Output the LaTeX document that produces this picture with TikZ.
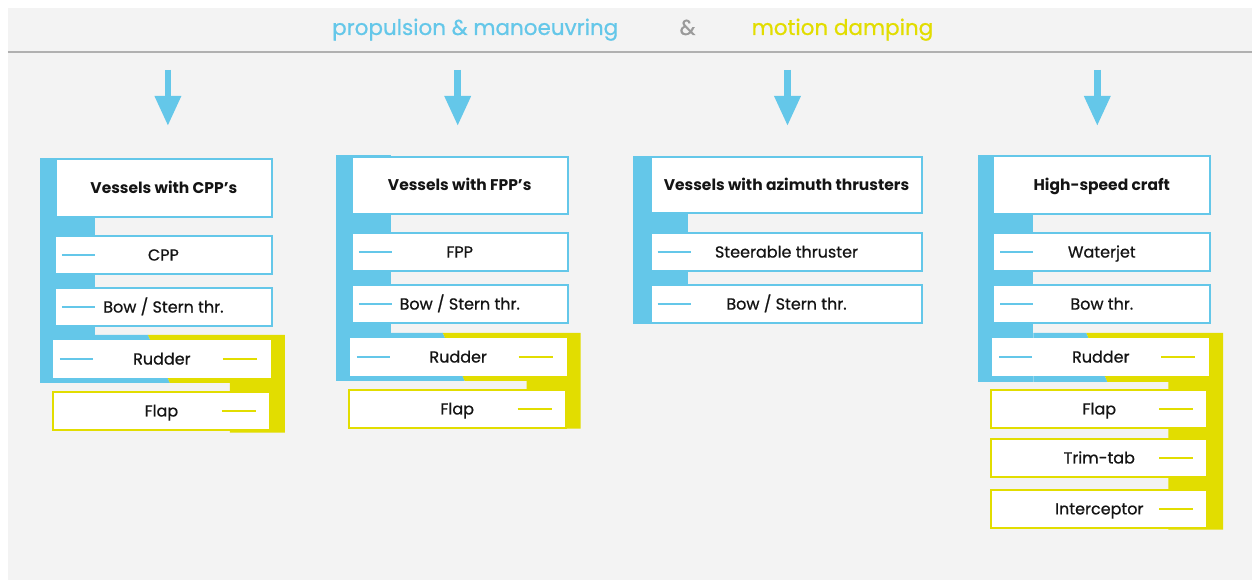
\documentclass[tikz,border=0pt]{standalone}
\usepackage{fontspec}
\setmainfont{Poppins}
\newfontfamily\mediumface{Poppins}[FakeBold=0.7]
\usetikzlibrary{arrows.meta}
\definecolor{sky}{HTML}{64C7E9}
\definecolor{lemon}{HTML}{E2DD00}
\definecolor{panelgray}{HTML}{F3F3F3}
\definecolor{rulegray}{HTML}{B0B0B0}
\definecolor{ampgray}{HTML}{9A9A9A}
\definecolor{ink}{HTML}{141414}
\tikzset{
  boxbase/.style={rectangle, inner sep=0pt, outer sep=0pt, fill=white, text=ink,
    line width=2pt, minimum width=217pt, minimum height=38pt,
    text height=11.5pt, text depth=0pt,
    font=\mediumface\fontsize{16}{18}\selectfont},
  hdrbox/.style={boxbase, draw=sky, minimum height=58pt, text height=11pt,
    font=\fontsize{15.5}{18}\selectfont\bfseries},
  bluebox/.style={boxbase, draw=sky},
  lemonbox/.style={boxbase, draw=lemon},
  plainbox/.style={boxbase},
  bdash/.style={draw=sky, line width=2pt},
  ydash/.style={draw=lemon, line width=2pt},
  flow/.style={draw=sky, line width=6.5pt, -{Triangle[width=25pt,length=30pt]}},
  title/.style={font=\mediumface\fontsize{21.5}{24}\selectfont, anchor=base}
}
\newcommand\leftdash[1]{\draw[bdash] ([xshift=7pt]#1.west) -- ([xshift=40pt]#1.west);}
\newcommand\rightdash[1]{\draw[ydash] ([xshift=-48pt]#1.east) -- ([xshift=-14pt]#1.east);}
\begin{document}
\begin{tikzpicture}[x=1pt,y=-1pt]
% page and panel
\fill[white] (0,0) rectangle (1253,581);
\fill[panelgray] (8,8) rectangle (1253,580);
\draw[rulegray, line width=1.6pt] (8,52) -- (1253,52);

% title line
\node[title, text=sky] (tprop) at (475.5,35) {propulsion \& manoeuvring};
\node[title, text=ampgray] (tamp) at (688,35) {\&};
\node[title, text=lemon] (tdamp) at (843,35) {motion damping};

% downward arrows
\foreach \x/\n in {168/a, 458/b, 788/c, 1098/d}{
  \coordinate (s\n) at (\x,70);
  \coordinate (e\n) at (\x,126);
  \draw[flow] (s\n) -- (e\n);
}

% ---------- column 1: vessels with CPP's ----------
\fill[sky] (40,158) rectangle (95,383);
\fill[sky] (95,335) -- (148,335) -- (170,383) -- (95,383) -- cycle;
\fill[lemon] (148,335) -- (285,335) -- (285,433) -- (230,433) -- (230,383) -- (170,383) -- cycle;
\node[hdrbox, minimum width=216pt] (h1) at (164,188) {Vessels with CPP’s};
\node[bluebox] (c1a) at (163.5,255) {CPP};
\node[bluebox] (c1b) at (163.5,307) {Bow / Stern thr.};
\node[plainbox, minimum width=218pt] (c1c) at (162,359) {Rudder};
\node[lemonbox] (c1d) at (161.5,411) {Flap};
\leftdash{c1a}\leftdash{c1b}\leftdash{c1c}
\rightdash{c1c}\rightdash{c1d}

% ---------- column 2: vessels with FPP's ----------
\fill[sky] (336,155) rectangle (391,381);
\fill[sky] (391,333) -- (443,333) -- (465,381) -- (391,381) -- cycle;
\fill[lemon] (443,333) -- (581,333) -- (581,429) -- (527,429) -- (527,381) -- (465,381) -- cycle;
\node[hdrbox, minimum width=216pt, minimum height=57pt] (h2) at (460,185.5) {Vessels with FPP’s};
\node[bluebox, minimum width=216pt] (c2a) at (460,252) {FPP};
\node[bluebox, minimum width=216pt] (c2b) at (460,304) {Bow / Stern thr.};
\node[plainbox] (c2c) at (458.5,357) {Rudder};
\node[lemonbox] (c2d) at (457.5,409) {Flap};
\leftdash{c2a}\leftdash{c2b}\leftdash{c2c}
\rightdash{c2c}\rightdash{c2d}

% ---------- column 3: vessels with azimuth thrusters ----------
\fill[sky] (633,156) rectangle (688,324);
\node[hdrbox, minimum width=272pt, minimum height=56pt] (h3) at (787,185) {Vessels with azimuth thrusters};
\node[bluebox, minimum width=272pt] (c3a) at (787,252) {Steerable thruster};
\node[bluebox, minimum width=272pt] (c3b) at (787,304) {Bow / Stern thr.};
\leftdash{c3a}\leftdash{c3b}

% ---------- column 4: high-speed craft ----------
\fill[sky] (979,155) rectangle (1034,382);
\fill[sky] (1034,333) -- (1087,333) -- (1108,382) -- (1034,382) -- cycle;
\fill[lemon] (1087,333) -- (1224,333) -- (1224,530) -- (1169,530) -- (1169,382) -- (1108,382) -- cycle;
\node[hdrbox] (h4) at (1102.5,185) {High-speed craft};
\node[bluebox] (c4a) at (1102.5,252) {Waterjet};
\node[bluebox] (c4b) at (1102.5,304) {Bow thr.};
\node[plainbox] (c4c) at (1101.5,357) {Rudder};
\node[lemonbox, minimum width=216pt] (c4d) at (1100,409) {Flap};
\node[lemonbox, minimum width=216pt] (c4e) at (1100,458) {Trim-tab};
\node[lemonbox, minimum width=216pt] (c4f) at (1100,509) {Interceptor};
\leftdash{c4a}\leftdash{c4b}\leftdash{c4c}
\rightdash{c4c}\rightdash{c4d}\rightdash{c4e}\rightdash{c4f}
\end{tikzpicture}
\end{document}
